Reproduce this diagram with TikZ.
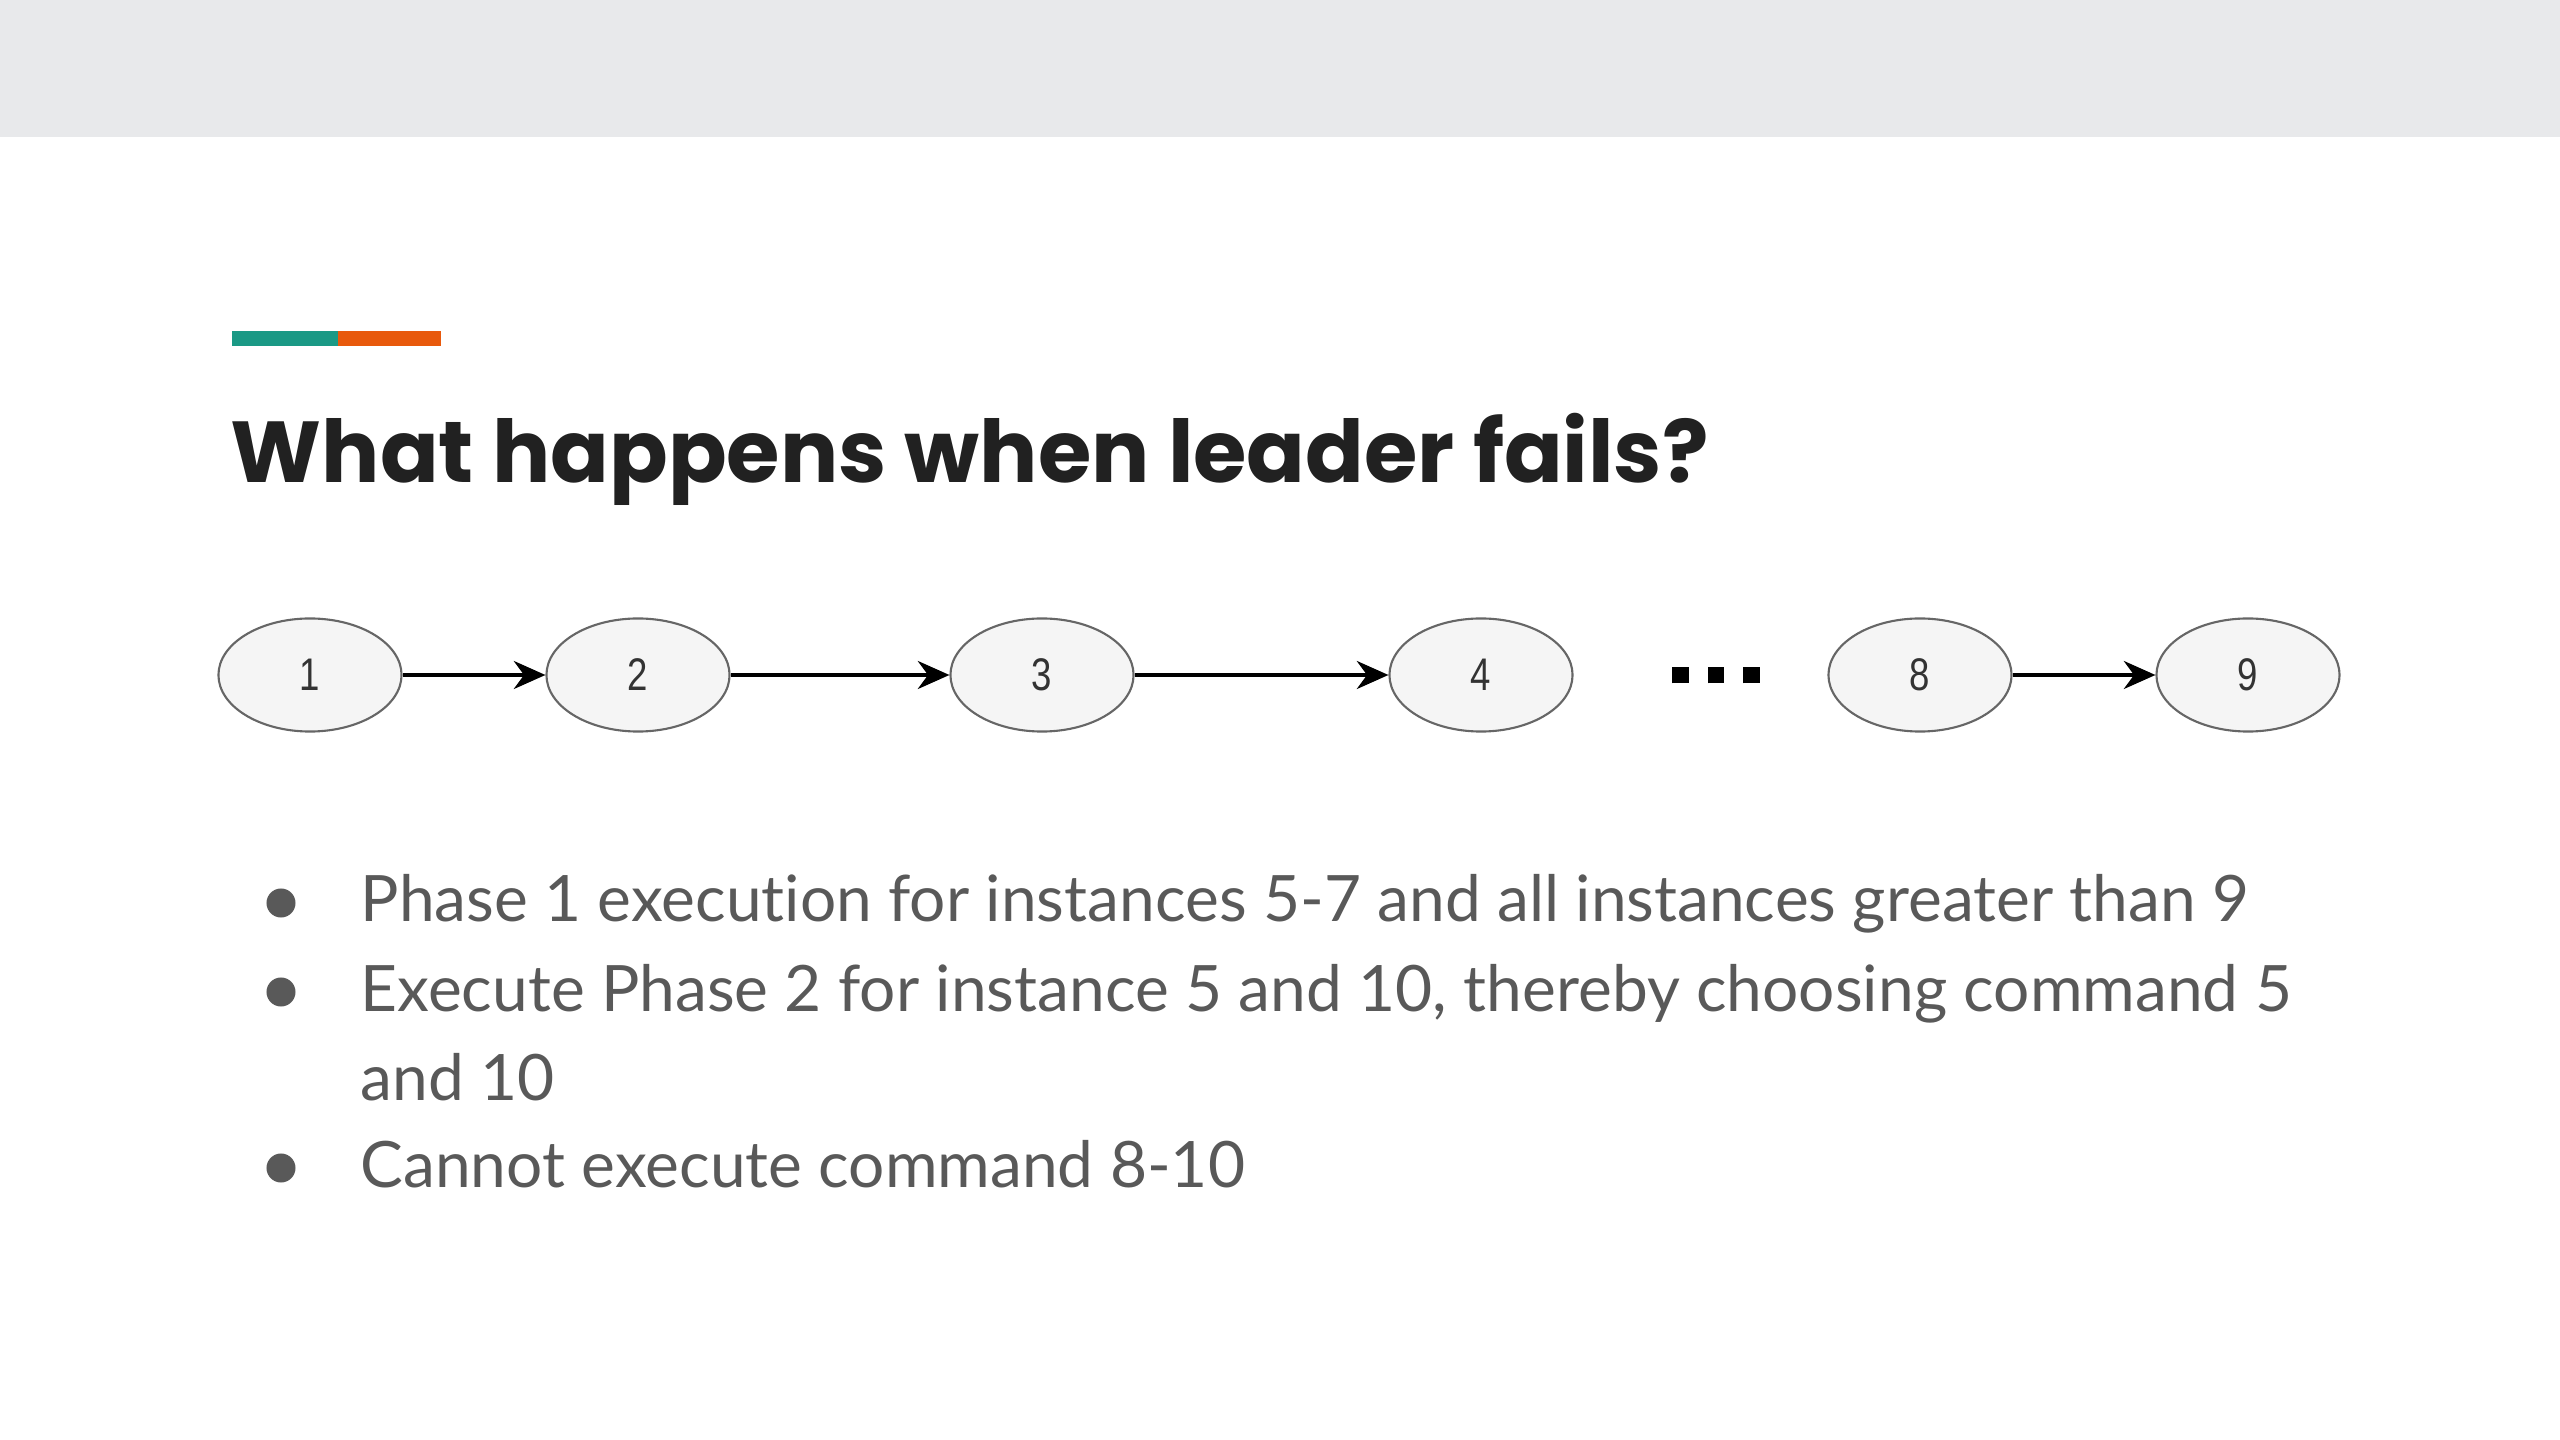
\documentclass[tikz,border=0pt]{standalone}
\usepackage{fontspec}
\setmainfont{Lato}[Ligatures=NoCommon]
\newfontfamily\numfont[FakeStretch=0.8]{Liberation Sans}
\newfontfamily\headfont{Poppins}
\usetikzlibrary{shapes.geometric,arrows.meta}
\definecolor{bandgray}{HTML}{E8E9EB}
\definecolor{accentgreen}{HTML}{1A9985}
\definecolor{accentorange}{HTML}{E8590C}
\definecolor{titleblack}{HTML}{212121}
\definecolor{textgray}{HTML}{595959}

\begin{document}
\begin{tikzpicture}[x=0.01cm,y=-0.01cm,
  inst/.style={ellipse,draw=black!60,fill=black!4,line width=0.6pt,
    minimum width=1.83cm,minimum height=1.13cm,inner sep=0pt,
    font=\numfont\fontsize{13}{13}\selectfont,text=black!80},
  link/.style={-{Stealth[length=9pt,width=8pt]},line width=0.9pt},
  item/.style={anchor=base west,inner sep=0pt,align=left,
    font=\fontsize{18.2}{25.3}\selectfont,text=textgray},
  dot/.style={circle,fill=textgray,minimum size=0.29cm,inner sep=0pt}]
  \useasboundingbox (0,0) rectangle (2560,1440);
  \fill[bandgray] (0,0) rectangle (2560,137);
  \draw[accentgreen,line width=0.15cm] (232,339) -- (338,339);
  \draw[accentorange,line width=0.15cm] (338,339) -- (441,339);
  \node[anchor=base west,inner sep=0pt,text=titleblack,
    font=\headfont\bfseries\fontsize{24.6}{24.6}\selectfont] (title) at (230,483)
    {What happens when leader fails?};
  % instances
  \foreach \n/\x in {1/310,2/638,3/1042,4/1481,8/1920,9/2248}
    \node[inst] (n\n) at (\x,675) {\n};
  \node[inner sep=0pt] (dots) at (1716,675)
    {\rule{4.8pt}{4.8pt}\hspace{5.4pt}\rule{4.8pt}{4.8pt}\hspace{5.4pt}\rule{4.8pt}{4.8pt}};
  \foreach \a/\b in {1/2,2/3,3/4,8/9}
    \draw[link] (n\a) -- (n\b);
  % bullets
  \node[item] (b1) at (360,922)
    {Phase 1 execution for instances 5-7 and all instances greater than 9};
  \node[item] (b2) at (360,1100)
    {Execute Phase 2 for instance 5 and 10, thereby choosing command 5\\and 10};
  \node[item] (b3) at (360,1187) {Cannot execute command 8-10};
  \node[dot] (d1) at (281,903) {};
  \node[dot] (d2) at (281,992) {};
  \node[dot] (d3) at (281,1168) {};
\end{tikzpicture}
\end{document}
